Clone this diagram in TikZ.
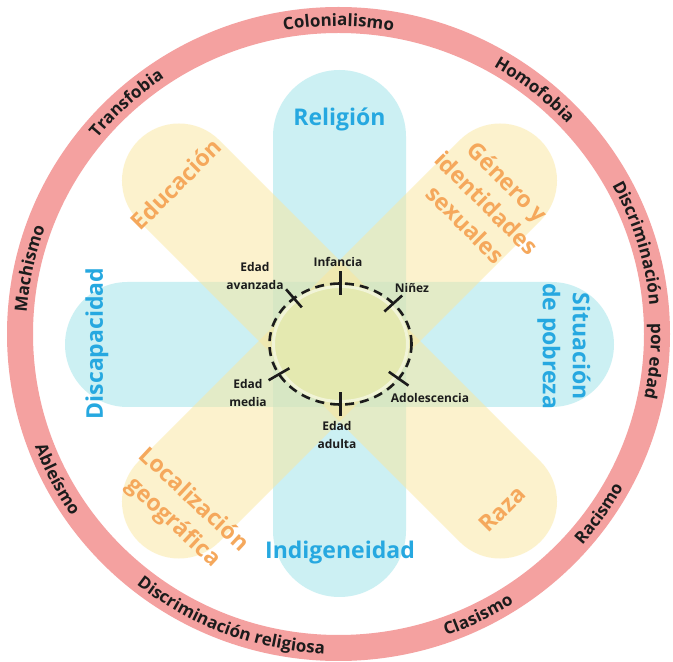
\documentclass[tikz,border=0pt]{standalone}
\usepackage{fontspec}
\setmainfont{Open Sans}
\usetikzlibrary{decorations.text,calc}
\definecolor{ringc}{RGB}{244,161,160}
\definecolor{barblue}{RGB}{155,227,233}
\definecolor{baryel}{RGB}{251,231,157}
\definecolor{txtblue}{RGB}{38,168,224}
\definecolor{txtorange}{RGB}{245,168,92}
\definecolor{txtdark}{RGB}{28,28,28}
\definecolor{diskc}{RGB}{228,233,176}
\newcommand\ringfont{\bfseries\fontsize{17}{20}\selectfont}
\tikzset{
  bluebar/.style={fill=barblue, fill opacity=0.5},
  yelbar/.style={fill=baryel, fill opacity=0.5},
  bluelabel/.style={text=txtblue, font=\bfseries\fontsize{23}{30}\selectfont, align=center, inner sep=0pt},
  orangelabel/.style={text=txtorange, font=\bfseries\fontsize{23}{30}\selectfont, align=center, inner sep=0pt},
  agelabel/.style={text=txtdark, font=\bfseries\fontsize{12}{18}\selectfont, align=center, inner sep=0pt},
  tickline/.style={line width=2.6pt, draw=txtdark},
  dashring/.style={line width=2.6pt, draw=txtdark, dash pattern=on 9pt off 6pt},
}
% clockwise ring text (tops outward)
\newcommand\ringcw[2]{%
  \path[decorate, decoration={text along path, text align=center, text color=txtdark,
     text={|\ringfont|#2}}]
    ($(rc)+({#1+45}:312.5 and 308)$) arc[start angle={#1+45}, end angle={#1-45}, x radius=312.5, y radius=308];}
% counterclockwise ring text (tops inward)
\newcommand\ringccw[2]{%
  \path[decorate, decoration={text along path, text align=center, text color=txtdark,
     text={|\ringfont|#2}}]
    ($(rc)+({#1-45}:324.5 and 320)$) arc[start angle={#1-45}, end angle={#1+45}, x radius=324.5, y radius=320];}
\begin{document}
\begin{tikzpicture}[x=1pt,y=1pt]
\useasboundingbox (0,0) rectangle (673,662);
\fill[white] (0,0) rectangle (673,662);
\coordinate (rc) at (338.5,328);
\coordinate (fc) at (339.5,321);
\coordinate (dc) at (340.5,318);
% outer ring
\fill[ringc, even odd rule] (rc) ellipse[x radius=331.5, y radius=327] (rc) ellipse[x radius=305.5, y radius=301];
% blue bars
\fill[bluebar, rounded corners=66.5pt] (273,65) rectangle (406,592);
\fill[bluebar, rounded corners=62.5pt] (65,255) rectangle (614,380);
% yellow bars
\begin{scope}[shift={(fc)}, rotate=45]
  \fill[yelbar, rounded corners=57pt] (-284,-57) rectangle (284,57);
\end{scope}
\begin{scope}[shift={(fc)}, rotate=-45]
  \fill[yelbar, rounded corners=57pt] (-284,-57) rectangle (284,57);
\end{scope}
% central disk
\fill[diskc] (dc) ellipse[x radius=69, y radius=59];
\draw[white, opacity=0.5, line width=3pt] (dc) ellipse[x radius=67, y radius=57.5];
\draw[dashring] (dc) ellipse[x radius=71, y radius=60.5];
\foreach \a in {90,42,-35,-90,210,131}{
  \draw[tickline] ($(dc)+(\a:71 and 60.5)+(\a:12)$) -- ($(dc)+(\a:71 and 60.5)+({\a+180}:12)$);
}
% bar labels
\node[bluelabel] (religion) at (339.5,543) {Religión};
\node[bluelabel] (indigeneidad) at (340,109) {Indigeneidad};
\node[bluelabel, rotate=90] (discapacidad) at (97,318.5) {Discapacidad};
\node[bluelabel, rotate=-90] (pobreza) at (564,316) {Situación\\de pobreza};
\node[orangelabel, rotate=45] (educacion) at (176,478) {Educación};
\node[orangelabel, rotate=-45] (genero) at (487,459) {Género y\\identidades\\sexuales};
\node[orangelabel, rotate=-43] (localizacion) at (183,150.5) {Localización\\geográfica};
\node[orangelabel, rotate=45] (raza) at (502,153) {Raza};
% age labels
\node[agelabel] (infancia) at (338,400) {Infancia};
\node[agelabel] (ninez) at (412,374) {Niñez};
\node[agelabel] (avanzada) at (255,386) {Edad\\avanzada};
\node[agelabel] (media) at (248,268.5) {Edad\\media};
\node[agelabel] (adolescencia) at (430,264) {Adolescencia};
\node[agelabel] (adulta) at (337,227) {Edad\\adulta};
% ring texts
\ringcw{90}{Colonialismo}
\ringcw{51.4}{Homofobia}
\ringcw{17}{Discriminación}
\ringcw{-5}{por edad}
\ringcw{168}{Machismo}
\ringcw{132.4}{Transfobia}
\ringccw{-34.8}{Racismo}
\ringccw{-63.8}{Clasismo}
\ringccw{249.4}{Discriminación religiosa}
\ringccw{207.5}{Ableísmo}
\end{tikzpicture}
\end{document}
